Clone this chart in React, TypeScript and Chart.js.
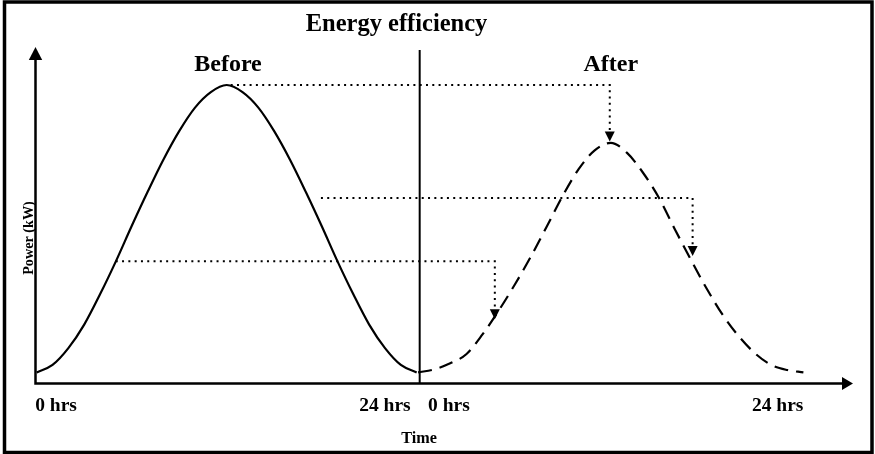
import { useEffect, useRef } from "react";
import { Chart, registerables } from "chart.js";

Chart.register(...registerables);

// ---- data ----
const HOURS = [0, 1, 2, 3, 4, 5, 6, 7, 8, 9, 10, 11, 12, 13, 14, 15, 16, 17, 18, 19, 20, 21, 22, 23, 24];
const BEFORE_KW = [3.3, 5.5, 10.5, 17.5, 26.5, 36.3, 46.8, 56.9, 66.5, 75.0, 82.0, 86.6, 88.7, 86.6, 82.0, 75.0, 66.5, 56.9, 46.8, 36.3, 26.5, 17.5, 10.5, 5.5, 3.3];
const AFTER_KW = [3.3, 4.2, 6.0, 8.7, 14.5, 21.5, 29.2, 37.5, 46.5, 55.7, 63.7, 69.3, 71.5, 68.6, 62.7, 55.2, 45.8, 36.7, 28.0, 20.2, 13.9, 8.9, 5.5, 4.0, 3.3];
const TICK_LABELS = ["0 hrs", "24 hrs"];
const PANEL_TITLES = ["Before", "After"];
const CHART_TITLE = "Energy efficiency";
const X_TITLE = "Time";
const Y_TITLE = "Power (kW)";
// dotted arrows: from a point on the Before curve, level across to the After curve
const ARROW_FROM_HOUR = [12, 17.7, 4.74];
const ARROW_LEVEL_KW = [88.7, 55.1, 36.3];
const ARROW_TO_HOUR = [11.94, 17.1, 4.78];
const ARROW_TO_KW = [71.9, 37.9, 19.1];
const DIVIDER_HOUR = 0.1; // on the After time axis
const DIVIDER_TOP_KW = 99.1;

const FONT = '"Liberation Serif", "DejaVu Serif", serif';

const diagramPlugin = {
  id: "diagram",
  beforeDatasetsDraw(chart: any) {
    const { ctx, chartArea } = chart;
    const xb = chart.scales.xBefore;
    const xa = chart.scales.xAfter;
    const y = chart.scales.y;
    ctx.save();
    ctx.strokeStyle = "#000";
    ctx.fillStyle = "#000";

    // dotted arrows
    ctx.lineWidth = 2;
    ctx.setLineDash([2, 4.3]);
    for (let i = 0; i < ARROW_FROM_HOUR.length; i++) {
      const x0 = xb.getPixelForValue(ARROW_FROM_HOUR[i]);
      const yl = y.getPixelForValue(ARROW_LEVEL_KW[i]);
      const x1 = xa.getPixelForValue(ARROW_TO_HOUR[i]);
      const yt = y.getPixelForValue(ARROW_TO_KW[i]);
      ctx.beginPath();
      ctx.moveTo(x0 + 4, yl);
      ctx.lineTo(x1, yl);
      ctx.lineTo(x1, yt - 10);
      ctx.stroke();
    }
    ctx.setLineDash([]);
    for (let i = 0; i < ARROW_FROM_HOUR.length; i++) {
      const x1 = xa.getPixelForValue(ARROW_TO_HOUR[i]);
      const yt = y.getPixelForValue(ARROW_TO_KW[i]);
      ctx.beginPath();
      ctx.moveTo(x1, yt);
      ctx.lineTo(x1 - 5, yt - 10);
      ctx.lineTo(x1 + 5, yt - 10);
      ctx.closePath();
      ctx.fill();
    }

    // divider
    const xd = xa.getPixelForValue(DIVIDER_HOUR);
    ctx.lineWidth = 2;
    ctx.beginPath();
    ctx.moveTo(xd, y.getPixelForValue(DIVIDER_TOP_KW));
    ctx.lineTo(xd, chartArea.bottom);
    ctx.stroke();

    // axes with arrowheads
    const L = chartArea.left;
    const B = chartArea.bottom;
    ctx.lineWidth = 2.5;
    ctx.beginPath();
    ctx.moveTo(L, B + 1.2);
    ctx.lineTo(L, chartArea.top + 10);
    ctx.moveTo(L - 1.2, B);
    ctx.lineTo(chartArea.right - 10, B);
    ctx.stroke();
    ctx.beginPath();
    ctx.moveTo(L, chartArea.top);
    ctx.lineTo(L - 6.7, chartArea.top + 13);
    ctx.lineTo(L + 6.7, chartArea.top + 13);
    ctx.closePath();
    ctx.fill();
    ctx.beginPath();
    ctx.moveTo(chartArea.right, B);
    ctx.lineTo(chartArea.right - 11, B - 6.5);
    ctx.lineTo(chartArea.right - 11, B + 6.5);
    ctx.closePath();
    ctx.fill();
    ctx.restore();
  },
  afterDraw(chart: any) {
    const { ctx } = chart;
    const xb = chart.scales.xBefore;
    const xa = chart.scales.xAfter;
    ctx.save();
    ctx.fillStyle = "#000";
    ctx.strokeStyle = "#000";

    // border
    ctx.lineWidth = 3.5;
    ctx.strokeRect(4.5, 2, 867.5, 450.5);

    // title
    ctx.textBaseline = "alphabetic";
    ctx.textAlign = "center";
    ctx.font = `bold 24.5px ${FONT}`;
    ctx.fillText(CHART_TITLE, 396.5, 31);
    ctx.font = `bold 24px ${FONT}`;
    ctx.fillText(PANEL_TITLES[0], 228, 70.5);
    ctx.fillText(PANEL_TITLES[1], xa.getPixelForValue(12), 70.5);

    // tick labels
    ctx.font = `bold 19.5px ${FONT}`;
    ctx.textAlign = "left";
    ctx.fillText(TICK_LABELS[0], xb.getPixelForValue(0) - 1.5, 410.5);
    ctx.fillText(TICK_LABELS[0], xa.getPixelForValue(0) + 10, 410.5);
    ctx.textAlign = "right";
    ctx.fillText(TICK_LABELS[1], xb.getPixelForValue(24) - 6, 410.5);
    ctx.fillText(TICK_LABELS[1], xa.getPixelForValue(24), 410.5);

    // axis titles
    ctx.font = `bold 16.2px ${FONT}`;
    ctx.textAlign = "center";
    ctx.fillText(X_TITLE, 419, 443);
    ctx.save();
    ctx.translate(33.3, 238);
    ctx.rotate(-Math.PI / 2);
    ctx.font = `bold 14.2px ${FONT}`;
    ctx.fillText(Y_TITLE, 0, 0);
    ctx.restore();
    ctx.restore();
  },
};

export default function App() {
  const ref = useRef<HTMLCanvasElement | null>(null);
  useEffect(() => {
    if (!ref.current) return;
    const chart = new Chart(ref.current, {
      type: "line",
      data: {
        datasets: [
          {
            label: "Before",
            data: HOURS.map((h, i) => ({ x: h, y: BEFORE_KW[i] })),
            xAxisID: "xBefore",
            yAxisID: "y",
            borderColor: "#000",
            borderWidth: 2.2,
            pointRadius: 0,
            cubicInterpolationMode: "monotone",
            fill: false,
          },
          {
            label: "After",
            data: HOURS.map((h, i) => ({ x: h, y: AFTER_KW[i] })),
            xAxisID: "xAfter",
            yAxisID: "y",
            borderColor: "#000",
            borderWidth: 2.2,
            borderDash: [14, 8],
            pointRadius: 0,
            cubicInterpolationMode: "monotone",
            fill: false,
          },
        ],
      },
      options: {
        responsive: false,
        animation: false,
        events: [],
        layout: { padding: { left: 35.5, top: 47, right: 22, bottom: 70.5 } },
        plugins: { legend: { display: false }, title: { display: false }, tooltip: { enabled: false } },
        scales: {
          xBefore: { type: "linear", display: false, min: -0.076, max: 51.56 },
          xAfter: { type: "linear", display: false, min: -23.83, max: 27.09 },
          y: { type: "linear", display: false, min: 0, max: 100 },
        },
      },
      plugins: [diagramPlugin],
    });
    return () => chart.destroy();
  }, []);
  return (
    <div style={{ position: "fixed", left: 0, top: 0, width: 875, height: 454, background: "#fff" }}>
      <canvas ref={ref} width={875} height={454} />
    </div>
  );
}
